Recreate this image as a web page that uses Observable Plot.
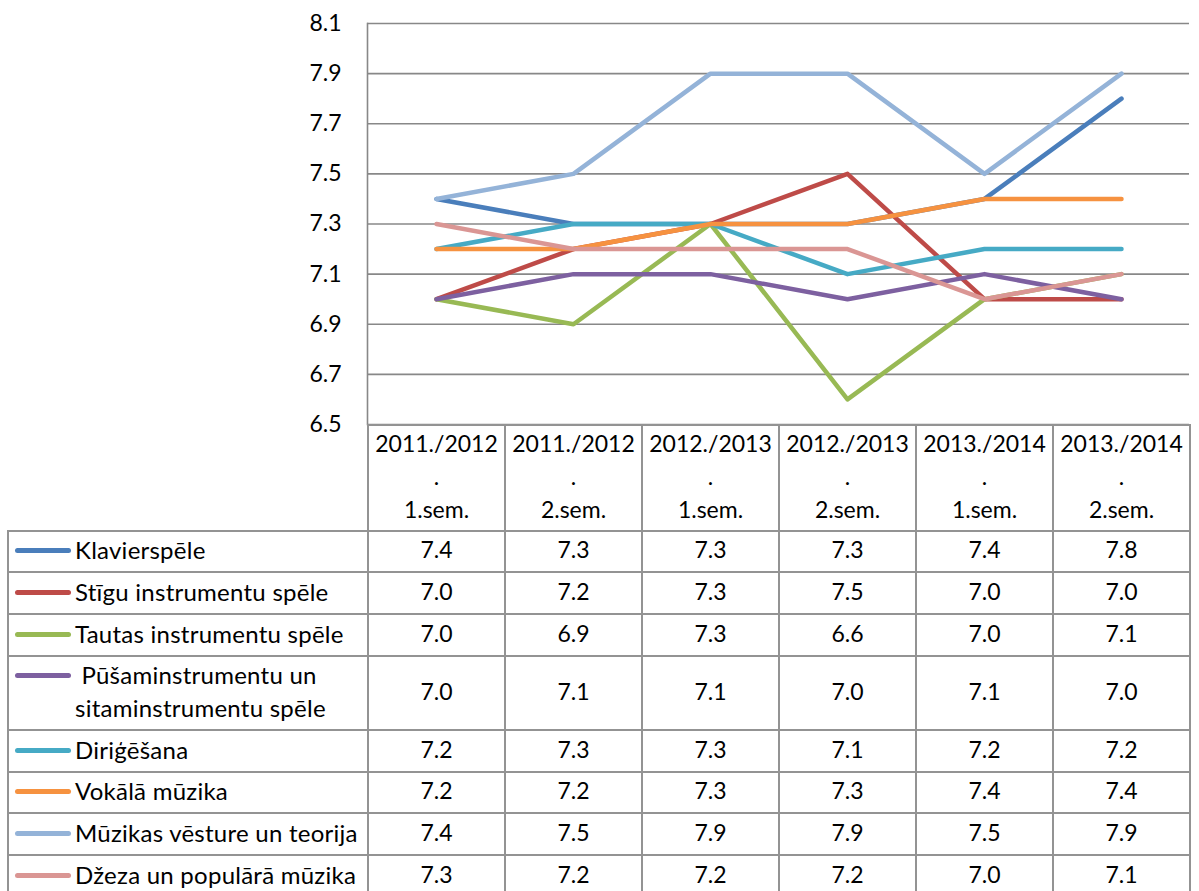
<!DOCTYPE html>
<html>
<head>
<meta charset="utf-8">
<script src="https://cdn.jsdelivr.net/npm/d3@7"></script>
<script src="https://cdn.jsdelivr.net/npm/@observablehq/plot@0.6"></script>
<style>
  html, body { margin: 0; padding: 0; background: #fff; }
  #wrap { position: relative; width: 1199px; height: 891px; overflow: hidden; font-family: Lato, "Open Sans", sans-serif; color: #000; }
  #chart { position: absolute; left: 0; top: 0; }
  #tbl { position: absolute; left: 7px; top: 424px; border-collapse: collapse; table-layout: fixed; width: 1183px; }
  #tbl td { border: 2px solid #939393; padding: 0 0 3px 0; text-align: center; vertical-align: middle; font-size: 23px; line-height: 33px; white-space: pre-line; }
  #tbl td.blank { border-top: none; border-left: none; }
  #tbl td.leg { text-align: left; padding-left: 6px; white-space: normal; font-size: 24px; letter-spacing: 0.25px; }
  .legin { display: flex; align-items: flex-start; }
  .sw { display: inline-block; width: 56px; height: 5px; border-radius: 3px; margin-top: 15px; margin-right: 4px; flex: none; }
  .lt { white-space: pre; }
</style>
</head>
<body>
<div id="wrap">
  <div id="chart"></div>
  <table id="tbl"></table>
</div>
<script>
const categories = ["2011./2012. 1.sem.", "2011./2012. 2.sem.", "2012./2013. 1.sem.", "2012./2013. 2.sem.", "2013./2014. 1.sem.", "2013./2014. 2.sem."];
const seriesNames = ["Klavierspēle", "Stīgu instrumentu spēle", "Tautas instrumentu spēle", " Pūšaminstrumentu un\nsitaminstrumentu spēle", "Diriģēšana", "Vokālā mūzika", "Mūzikas vēsture un teorija", "Džeza un populārā mūzika"];
const klavierspele = [7.4, 7.3, 7.3, 7.3, 7.4, 7.8];
const stigu = [7.0, 7.2, 7.3, 7.5, 7.0, 7.0];
const tautas = [7.0, 6.9, 7.3, 6.6, 7.0, 7.1];
const pusam = [7.0, 7.1, 7.1, 7.0, 7.1, 7.0];
const dirigesana = [7.2, 7.3, 7.3, 7.1, 7.2, 7.2];
const vokala = [7.2, 7.2, 7.3, 7.3, 7.4, 7.4];
const muzikasVesture = [7.4, 7.5, 7.9, 7.9, 7.5, 7.9];
const dzeza = [7.3, 7.2, 7.2, 7.2, 7.0, 7.1];
const seriesValues = [klavierspele, stigu, tautas, pusam, dirigesana, vokala, muzikasVesture, dzeza];
const colors = ["#4A7EBB", "#BE4B48", "#98B954", "#7D60A0", "#46AAC5", "#F69240", "#94B3D8", "#DA9694"];
const yTicks = [6.5, 6.7, 6.9, 7.1, 7.3, 7.5, 7.7, 7.9, 8.1];

const data = [];
seriesNames.forEach((s, i) => seriesValues[i].forEach((v, j) => data.push({series: s, cat: categories[j], value: v})));

const fmt = d3.format(".1f");

const chart = Plot.plot({
  width: 1199,
  height: 426,
  marginLeft: 367,
  marginRight: 10,
  marginTop: 23,
  marginBottom: 2,
  style: {fontFamily: "Lato, 'Open Sans', sans-serif", fontSize: "23px", color: "#000", background: "transparent", overflow: "visible"},
  x: {type: "point", domain: categories, padding: 0.5, axis: null},
  y: {domain: [6.5, 8.1], axis: null},
  color: {domain: seriesNames, range: colors},
  marks: [
    Plot.ruleY(yTicks, {stroke: "#888", strokeWidth: 1.6}),
    Plot.frame({anchor: "left", stroke: "#888", strokeWidth: 1.6}),
    Plot.axisY(yTicks, {label: null, tickSize: 0, tickPadding: 26, tickFormat: fmt, fontSize: 23, fill: "#000"}),
    Plot.line(data, {x: "cat", y: "value", z: "series", stroke: "series", strokeWidth: 4.5, strokeLinejoin: "round", strokeLinecap: "round"})
  ]
});
document.getElementById("chart").appendChild(chart);

// data table
const tbl = document.getElementById("tbl");
const colgroup = document.createElement("colgroup");
[360, ...categories.map(() => 137)].forEach(w => {
  const c = document.createElement("col");
  c.style.width = w + "px";
  colgroup.appendChild(c);
});
tbl.appendChild(colgroup);

const head = document.createElement("tr");
head.style.height = "105.7px";
const blank = document.createElement("td");
blank.className = "blank";
head.appendChild(blank);
categories.forEach(c => {
  const td = document.createElement("td");
  td.textContent = c.replace(". ", "\n.\n");
  head.appendChild(td);
});
tbl.appendChild(head);

const rowHeights = [41.6, 42, 41.4, 74.3, 41.7, 41.6, 41.7, 42];
seriesNames.forEach((s, i) => {
  const tr = document.createElement("tr");
  tr.style.height = rowHeights[i] + "px";
  const leg = document.createElement("td");
  leg.className = "leg";
  const inner = document.createElement("div");
  inner.className = "legin";
  const sw = document.createElement("span");
  sw.className = "sw";
  sw.style.background = colors[i];
  const lt = document.createElement("span");
  lt.className = "lt";
  lt.textContent = s;
  inner.appendChild(sw);
  inner.appendChild(lt);
  leg.appendChild(inner);
  tr.appendChild(leg);
  seriesValues[i].forEach(v => {
    const td = document.createElement("td");
    td.textContent = fmt(v);
    tr.appendChild(td);
  });
  tbl.appendChild(tr);
});
</script>
</body>
</html>
